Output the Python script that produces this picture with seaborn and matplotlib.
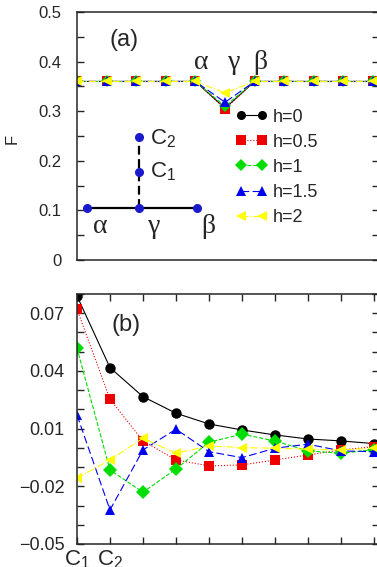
import numpy as np
import pandas as pd
import matplotlib
matplotlib.use('Agg')
import matplotlib.pyplot as plt
import seaborn as sns
from matplotlib.ticker import MultipleLocator, FixedLocator, NullLocator, FuncFormatter

# ---- data ----
h_labels = ['h=0', 'h=0.5', 'h=1', 'h=1.5', 'h=2']
colors = ['#000000', '#ee0000', '#00dd00', '#0000ee', '#ffff00']
markers = ['o', 's', 'D', '^', '<']
lstyles = ['-', ':', '--', (0, (7, 3)), '-.']

# panel (a): F along the chain, dip at the junction site gamma
site_a = [0, 1, 2, 3, 4, 5, 6, 7, 8, 9, 10]
F_h0 = [0.360, 0.360, 0.360, 0.360, 0.360, 0.306, 0.360, 0.360, 0.360, 0.360, 0.360]
F_h05 = [0.360, 0.360, 0.360, 0.360, 0.360, 0.305, 0.360, 0.360, 0.360, 0.360, 0.360]
F_h1 = [0.360, 0.360, 0.360, 0.360, 0.360, 0.310, 0.360, 0.360, 0.360, 0.360, 0.360]
F_h15 = [0.360, 0.360, 0.360, 0.360, 0.360, 0.318, 0.360, 0.360, 0.360, 0.360, 0.360]
F_h2 = [0.360, 0.360, 0.360, 0.360, 0.360, 0.337, 0.360, 0.360, 0.360, 0.360, 0.360]
F_top = [F_h0, F_h05, F_h1, F_h15, F_h2]

# panel (b): values on the side branch C1, C2, ...
site_b = [1, 2, 3, 4, 5, 6, 7, 8, 9, 10]
d_h0 = [0.0790, 0.0417, 0.0266, 0.0180, 0.0124, 0.0093, 0.0067, 0.0046, 0.0036, 0.0022]
d_h05 = [0.0721, 0.0253, 0.0036, -0.0063, -0.0094, -0.0089, -0.0063, -0.0037, -0.0011, 0.0006]
d_h1 = [0.0518, -0.0115, -0.0231, -0.0110, 0.0029, 0.0071, 0.0036, -0.0016, -0.0028, -0.0010]
d_h15 = [0.0171, -0.0323, -0.0011, 0.0097, -0.0020, -0.0051, -0.0002, 0.0019, -0.0016, -0.0020]
d_h2 = [-0.0158, -0.0063, 0.0050, -0.0028, 0.0010, 0.0001, -0.0002, -0.0007, -0.0011, -0.0002]
d_bot = [d_h0, d_h05, d_h1, d_h15, d_h2]
xtick_b = ['C$_1$', 'C$_2$', '', '', '', '', '', '', '', '']

# lattice sketch in panel (a)
node_x = [0.34, 2.1, 4.05, 2.1, 2.1]
node_y = [0.105, 0.105, 0.105, 0.178, 0.248]
node_txt = ['\u03b1', '\u03b3', '\u03b2', 'C$_1$', 'C$_2$']

sns.set_style('ticks')
plt.rcParams['font.family'] = ['Liberation Sans', 'DejaVu Sans']
plt.rcParams['mathtext.fontset'] = 'custom'
plt.rcParams['mathtext.rm'] = 'Liberation Sans'
plt.rcParams['axes.linewidth'] = 1.1
greek = ['Liberation Serif', 'DejaVu Serif']

fig = plt.figure(figsize=(3.77, 5.67), dpi=100)
ax1 = fig.add_axes([0.2042, 0.5414, 0.801, 0.4374])
ax2 = fig.add_axes([0.2042, 0.0406, 0.801, 0.4409])

for lab, yv, col, mk, ls in zip(h_labels, F_top, colors, markers, lstyles):
    sns.lineplot(x=site_a, y=yv, ax=ax1, color=col, marker=mk, linestyle=ls,
                 markersize=6.5, markeredgewidth=0, markeredgecolor=col,
                 linewidth=0.8, label=lab)

for yv, col, mk, ls in zip(d_bot, colors, markers, lstyles):
    sns.lineplot(x=site_b, y=yv, ax=ax2, color=col, marker=mk, linestyle=ls,
                 markersize=7.5, markeredgewidth=0, markeredgecolor=col,
                 linewidth=0.8, legend=False)

# lattice sketch
ax1.plot(node_x[:3], node_y[:3], color='black', lw=1.6)
ax1.plot([node_x[1], node_x[3], node_x[4]], [node_y[1], node_y[3], node_y[4]],
         color='black', lw=1.6, ls=(0, (4, 2)))
ax1.plot(node_x, node_y, ls='none', marker='o', ms=5.5, color='#1a1acc')
ax1.text(0.77, 0.067, node_txt[0], fontsize=20, ha='center', va='center', family=greek)
ax1.text(2.6, 0.067, node_txt[1], fontsize=20, ha='center', va='center', family=greek)
ax1.text(4.45, 0.067, node_txt[2], fontsize=20, ha='center', va='center', family=greek)
ax1.text(2.45, 0.178, node_txt[3], fontsize=16, ha='left', va='center')
ax1.text(2.45, 0.245, node_txt[4], fontsize=16, ha='left', va='center')

ax1.text(4.2, 0.398, '\u03b1', fontsize=20, ha='center', va='center', family=greek)
ax1.text(5.3, 0.398, '\u03b3', fontsize=20, ha='center', va='center', family=greek)
ax1.text(6.2, 0.398, '\u03b2', fontsize=20, ha='center', va='center', family=greek)
ax1.text(1.6, 0.443, '(a)', fontsize=17, ha='center', va='center')
ax2.text(2.5, 0.064, '(b)', fontsize=17, ha='center', va='center')

ax1.legend(loc='upper left', bbox_to_anchor=(0.5, 0.64), frameon=False,
           numpoints=2, handlelength=1.8, handletextpad=0.3,
           labelspacing=0.45, fontsize=13, borderaxespad=0)

ax1.set_xlim(0, 10.2)
ax1.set_ylim(0, 0.5)
ax1.xaxis.set_major_locator(NullLocator())
ax1.yaxis.set_major_locator(MultipleLocator(0.1))
ax1.yaxis.set_minor_locator(MultipleLocator(0.05))
ax1.yaxis.set_major_formatter(FuncFormatter(lambda v, p: '0' if abs(v) < 1e-9 else f'{v:.1f}'))
ax1.tick_params(axis='y', which='both', direction='in', left=True, right=True,
                length=5, width=1, labelsize=12, pad=11)
ax1.set_ylabel('F', fontsize=12)
ax1.yaxis.set_label_coords(-0.19, 0.49)
ax1.set_xlabel('')

ax2.set_xlim(1, 10.15)
ax2.set_ylim(-0.05, 0.08)
ax2.xaxis.set_major_locator(FixedLocator(site_b))
ax2.set_xticklabels(xtick_b)
ax2.yaxis.set_major_locator(FixedLocator([-0.05, -0.02, 0.01, 0.04, 0.07]))
ax2.set_yticklabels(['\u22120.05', '\u22120.02', '0.01', '0.04', '0.07'])
ax2.yaxis.set_minor_locator(MultipleLocator(0.01))
ax2.tick_params(axis='y', which='both', direction='in', left=True, right=True,
                length=5, width=1, labelsize=13, pad=9)
ax2.tick_params(axis='x', which='both', direction='in', top=True, bottom=True,
                length=5, width=1, labelsize=16, pad=3)
ax2.set_xlabel('')
ax2.set_ylabel('')

for ax in (ax1, ax2):
    for s in ax.spines.values():
        s.set_visible(True)

fig.savefig('out.png', dpi=100)
